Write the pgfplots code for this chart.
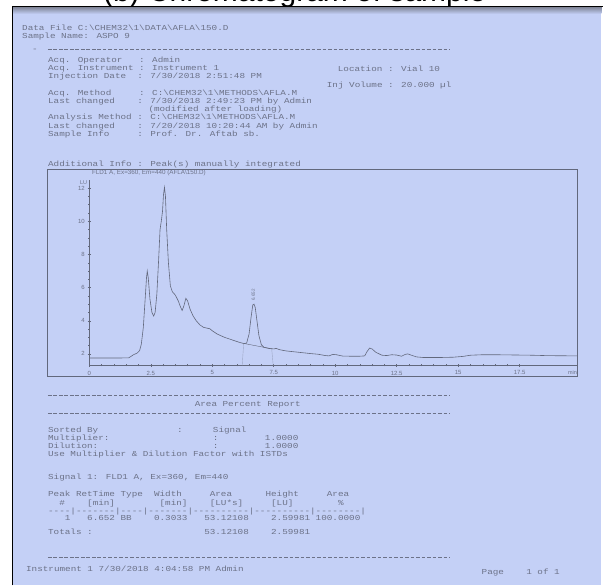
\documentclass[border=0pt]{standalone}
\usepackage{fontspec}
\setmainfont{Liberation Sans}
\newfontfamily\mono{Liberation Mono}
\usepackage{pgfplots}
\pgfplotsset{compat=1.18}
\definecolor{bg}{RGB}{196,208,246}
\definecolor{txt}{RGB}{108,114,136}
\definecolor{ln}{RGB}{98,104,124}
\newcommand{\bs}{\textbackslash}
\newcommand{\T}[3]{\node[anchor=base west, inner sep=0, text=txt, font=\mono\fontsize{9.3}{9.3}\selectfont] at (#1,{583.8-#2}) {\scalebox{1}[0.82]{#3}};}
\begin{document}
\begin{tikzpicture}[x=1pt,y=1pt]
\fill[white] (0,0) rectangle (604,586);
\begin{scope}
\clip (0,578) rectangle (604,586);
\node[anchor=base west, inner sep=0, font=\fontsize{30}{30}\selectfont, text=black] at (103,584.5) {\smash{(b) Chromatogram of sample}};
\end{scope}
\fill[bg] (12.7,0) rectangle (602,579.5);
\shade[top color=ln!85, bottom color=bg] (12.7,572) rectangle (602,579.5);
\draw[black, line width=1.2pt] (12.7,0) -- (12.7,579.5) -- (604,579.5);
% header text
\T{22}{28}{Data File C:\bs{}CHEM32\bs{}1\bs{}DATA\bs{}AFLA\bs{}150.D}
\T{22}{36}{Sample Name: ASPO 9}
\T{32}{49}{-}
\draw[txt, dash pattern=on 3.6pt off 1.9pt, line width=0.6pt] (48,{586-49}) -- (450,{586-49});
\T{48}{60}{Acq. Operator~~~: Admin}
\T{48}{68}{Acq. Instrument : Instrument 1}
\T{338}{69}{Location : Vial 10}
\T{48}{76}{Injection Date~~: 7/30/2018 2:51:48 PM}
\T{327}{85}{Inj Volume : 20.000 µl}
\T{48}{93}{Acq. Method~~~~~: C:\bs{}CHEM32\bs{}1\bs{}METHODS\bs{}AFLA.M}
\T{48}{101}{Last changed~~~~: 7/30/2018 2:49:23 PM by Admin}
\T{48}{109}{~~~~~~~~~~~~~~~~~~(modified after loading)}
\T{48}{117}{Analysis Method : C:\bs{}CHEM32\bs{}1\bs{}METHODS\bs{}AFLA.M}
\T{48}{126}{Last changed~~~~: 7/20/2018 10:20:44 AM by Admin}
\T{48}{134}{Sample Info~~~~~: Prof. Dr. Aftab sb.}
\T{48}{164}{Additional Info : Peak(s) manually integrated}
% chart frame
\draw[ln, line width=0.5pt] (47,209) rectangle (578,417);
\node[anchor=west, inner sep=0, text=txt, font=\fontsize{6.3}{6.3}\selectfont] at (92,{586-173}) {FLD1 A, Ex=360, Em=440 (AFLA\bs{}150.D)};
\node[anchor=east, inner sep=0, text=txt, font=\fontsize{5.5}{5.5}\selectfont] at (87.5,{586-183}) {LU};
\node[anchor=center, inner sep=0, text=txt, font=\fontsize{5.5}{5.5}\selectfont] at (573,{586-372.5}) {min};
\begin{axis}[at={(89.3pt,220.3pt)}, anchor=south west, scale only axis,
  width=488.7pt, height=185.7pt,
  xmin=0, xmax=19.85, ymin=1.31, ymax=12.5,
  axis x line=bottom, axis y line=left,
  axis line style={-, draw=ln, line width=0.5pt},
  xtick={0,2.5,5,7.5,10,12.5,15,17.5},
  xticklabels={0,2.5,5,7.5,10,12.5,15,17.5},
  ytick={2,4,6,8,10,12},
  yticklabels={2,4,6,8,10,12},
  minor x tick num=4, minor y tick num=3,
  tick align=center, major tick length=3pt, minor tick length=2pt,
  every tick/.style={draw=ln, line width=0.4pt},
  tick label style={font=\fontsize{6}{6}\selectfont, text=txt},
  xticklabel style={yshift=-0.5pt},
  yticklabel style={xshift=0.5pt},
  clip=false]
\addplot[ln, line width=0.6pt] coordinates {
(0,1.75) (1.0,1.75) (1.6,1.76) (1.7,1.85) (1.8,1.95) (1.95,2.05) (2.05,2.2)
(2.12,2.6) (2.2,3.6) (2.27,5.2) (2.33,6.6) (2.36,7.0) (2.40,6.6) (2.47,5.3)
(2.55,4.5) (2.62,4.28) (2.68,4.5) (2.75,5.6) (2.82,7.6) (2.88,9.5) (2.93,10.0)
(2.98,10.6) (3.02,11.6) (3.06,12.05) (3.10,11.5) (3.15,9.5) (3.22,7.5) (3.30,6.1)
(3.38,5.75) (3.5,5.55) (3.62,5.2) (3.72,4.8) (3.78,4.62) (3.85,4.9) (3.93,5.35)
(4.0,5.2) (4.1,4.7) (4.22,4.3) (4.35,4.0) (4.5,3.75) (4.65,3.6) (4.8,3.55)
(4.9,3.52) (5.0,3.4) (5.2,3.2) (5.5,3.0) (5.8,2.85) (6.1,2.7) (6.3,2.62)
(6.4,2.65) (6.5,3.2) (6.58,4.2) (6.65,4.95) (6.7,5.0) (6.75,4.8) (6.82,4.0)
(6.9,3.1) (7.0,2.55) (7.1,2.4) (7.3,2.33) (7.5,2.3) (7.6,2.33) (7.75,2.25)
(8.0,2.18) (8.5,2.1) (9.0,2.02) (9.3,1.98) (9.6,1.9) (9.75,1.88) (9.9,1.97)
(10.05,1.95) (10.3,1.87) (10.6,1.86) (11.0,1.86) (11.2,1.88) (11.3,2.15)
(11.4,2.35) (11.5,2.3) (11.65,2.1) (11.9,1.92) (12.1,1.9) (12.3,1.95)
(12.5,1.93) (12.7,1.86) (12.85,1.97) (12.95,2.0) (13.1,1.92) (13.3,1.82)
(13.6,1.78) (14.2,1.78) (14.8,1.8) (15.2,1.85) (15.5,1.92) (16.0,1.95)
(16.5,1.95) (17.0,1.94) (17.5,1.93) (18.0,1.92) (18.5,1.9) (19.0,1.89) (19.85,1.88)
};
\addplot[ln, line width=0.4pt] coordinates {(6.25,2.64) (7.45,2.3)};
\addplot[ln!40!bg, line width=0.4pt] coordinates {(6.28,2.62) (6.22,1.31)};
\addplot[ln!40!bg, line width=0.4pt] coordinates {(7.42,2.3) (7.48,1.31)};
\node[rotate=90, inner sep=0, text=txt, font=\fontsize{4.5}{4.5}\selectfont] at (axis cs:6.67,5.55) {6.652};
\end{axis}
% report
\draw[txt, dash pattern=on 3.6pt off 1.9pt, line width=0.6pt] (48,{586-396}) -- (450,{586-396});
\node[anchor=base, inner sep=0, text=txt, font=\mono\fontsize{9.3}{9.3}\selectfont] at (248,{583.8-405}) {\scalebox{1}[0.82]{Area Percent Report}};
\draw[txt, dash pattern=on 3.6pt off 1.9pt, line width=0.6pt] (48,{586-414}) -- (450,{586-414});
\T{48}{431}{Sorted By}
\T{177}{431}{:}
\T{213}{431}{Signal}
\T{48}{439}{Multiplier:}
\T{213}{439}{:}
\T{265}{439}{1.0000}
\T{48}{447}{Dilution:}
\T{213}{447}{:}
\T{265}{447}{1.0000}
\T{48}{455}{Use Multiplier \& Dilution Factor with ISTDs}
\T{48}{478}{Signal 1: FLD1 A, Ex=360, Em=440}
\T{48}{495}{Peak RetTime Type~~Width~~~~~Area~~~~~~Height~~~~~Area}
\T{48}{504}{~~\#~~~~[min]~~~~~~~~[min]~~~~[LU*s]~~~~~[LU]~~~~~~~~\%}
\T{48}{512}{----|-------|----|-------|----------|----------|--------|}
\T{48}{519}{~~~1~~~6.652 BB~~~~0.3033~~~53.12108~~~~2.59981 100.0000}
\T{48}{533}{Totals :~~~~~~~~~~~~~~~~~~~~53.12108~~~~2.59981}
\draw[txt, dash pattern=on 3.6pt off 1.9pt, line width=0.6pt] (48,{586-558}) -- (450,{586-558});
\T{26}{570}{Instrument 1 7/30/2018 4:04:58 PM Admin}
\T{482}{573}{Page~~~~1 of 1}
\end{tikzpicture}
\end{document}
